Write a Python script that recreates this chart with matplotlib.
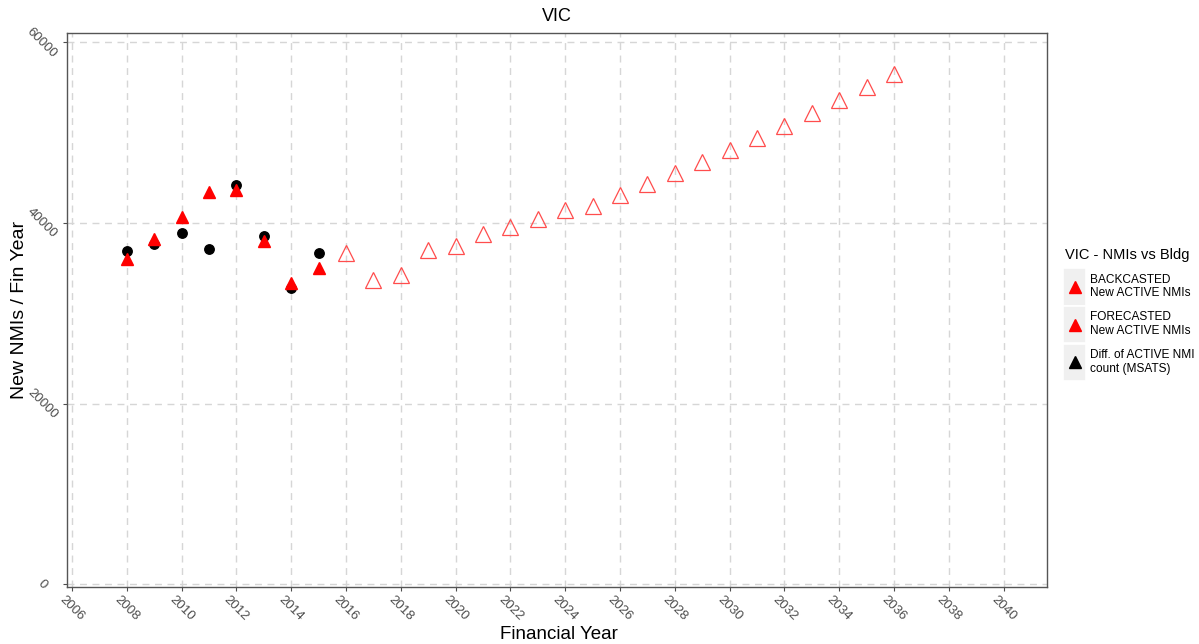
import matplotlib
matplotlib.use("Agg")
import matplotlib.pyplot as plt
from matplotlib.legend_handler import HandlerLine2D
from matplotlib.lines import Line2D
from matplotlib.patches import Rectangle

plt.rcParams['font.family'] = ['Liberation Sans', 'DejaVu Sans']

# datos
back_years = [2008, 2009, 2010, 2011, 2012, 2013, 2014, 2015]
back_vals = [36050, 38230, 40700, 43470, 43620, 37970, 33320, 35010]

diff_years = [2008, 2009, 2010, 2011, 2012, 2013, 2014, 2015]
diff_vals = [36900, 37670, 38890, 37150, 44180, 38600, 32800, 36640]

fore_years = list(range(2016, 2037))
fore_vals = [36680, 33680, 34240, 37040, 37450, 38750, 39560, 40440, 41480,
             41880, 43120, 44270, 45530, 46760, 48090, 49420, 50750, 52150,
             53590, 55030, 56540]

x_ticks = list(range(2006, 2041, 2))
y_ticks = [0, 20000, 40000, 60000]

legend_labels = ["BACKCASTED\nNew ACTIVE NMIs",
                 "FORECASTED\nNew ACTIVE NMIs",
                 "Diff. of ACTIVE NMI\ncount (MSATS)"]


class GreyKeyHandler(HandlerLine2D):
    # recuadro gris detras del marcador, como las claves de ggplot
    def create_artists(self, legend, orig_handle, xdescent, ydescent,
                       width, height, fontsize, trans):
        bg = Rectangle((-xdescent - 1, -ydescent - 10.4), width + 2,
                       height + 20.8, facecolor='#f0f0f0', edgecolor='white',
                       lw=1.2, transform=trans)
        arts = super().create_artists(legend, orig_handle, xdescent, ydescent,
                                      width, height, fontsize, trans)
        return [bg] + arts


fig = plt.figure(figsize=(11.99, 6.44), dpi=100)
ax = fig.add_axes([0.0559, 0.0885, 0.8173, 0.861])

ax.plot(diff_years, diff_vals, linestyle='none', marker='o', ms=6.8,
        color='black', zorder=3)
ax.plot(back_years, back_vals, linestyle='none', marker='^', ms=8,
        color='red', zorder=4)
ax.plot(fore_years, fore_vals, linestyle='none', marker='^', ms=11,
        markerfacecolor='none', markeredgecolor='#ff4d4d', mew=0.9, zorder=4)

ax.set_xlim(2005.82, 2041.58)
ax.set_ylim(-330, 61100)
ax.set_xticks(x_ticks)
ax.set_yticks(y_ticks)
ax.grid(True, color='#d6d6d6', linestyle=(0, (5, 4)), linewidth=1)
ax.set_axisbelow(True)

for lbl in ax.get_xticklabels():
    lbl.set_rotation(-45)
    lbl.set_ha('center')
    lbl.set_va('top')
for lbl in ax.get_yticklabels():
    lbl.set_rotation(-45)
    lbl.set_ha('center')
    lbl.set_va('center')
ax.tick_params(axis='both', colors='#4d4d4d', labelsize=9.5, length=3,
               width=0.8)
ax.tick_params(axis='x', pad=2)
ax.tick_params(axis='y', pad=15)

for sp in ax.spines.values():
    sp.set_color('#555555')
    sp.set_linewidth(1)

ax.set_title("VIC", fontsize=13, pad=8)
ax.set_xlabel("Financial Year", fontsize=13.5, va='top')
ax.xaxis.set_label_coords(0.5015, -0.07)
ax.set_ylabel("New NMIs / Fin Year", fontsize=14, va='center')
ax.yaxis.set_label_coords(-0.048, 0.5)

handles = [Line2D([], [], linestyle='none', marker='^', ms=8, color='red'),
           Line2D([], [], linestyle='none', marker='^', ms=8, color='red'),
           Line2D([], [], linestyle='none', marker='^', ms=8, color='black')]
leg = fig.legend(handles, legend_labels, title="VIC - NMIs vs Bldg",
                 loc='upper left', bbox_to_anchor=(0.879, 0.632),
                 frameon=False, fontsize=8.6, title_fontsize=10.5,
                 handlelength=1.7, handletextpad=0.4, labelspacing=1.0,
                 handler_map={Line2D: GreyKeyHandler(numpoints=1)})
leg._legend_box.align = 'left'

fig.savefig("out.png", dpi=100)
